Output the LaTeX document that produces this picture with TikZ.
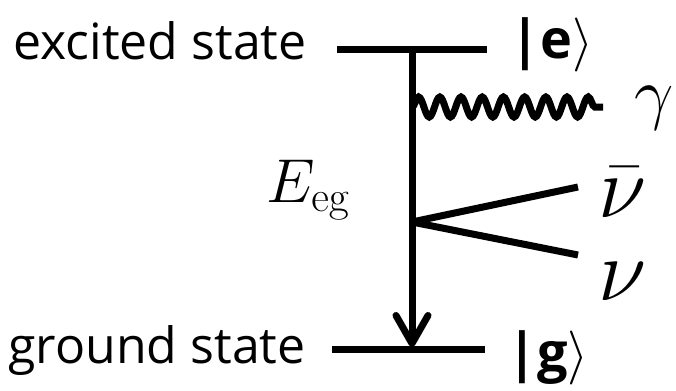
\RequirePackage{fix-cm}
\documentclass[tikz,border=0pt]{standalone}
\usepackage[no-math]{fontspec}
\setmainfont{Open Sans}
\usepackage{amsmath}
\usepackage{tikz}
\usetikzlibrary{arrows.meta, decorations.pathmorphing, positioning}

\begin{document}
\begin{tikzpicture}[
    x=0.5pt, y=-0.5pt,
    level/.style={line width=3.5pt},
    statelabel/.style={font=\fontsize{25}{30}\selectfont, inner sep=0pt, anchor=base east},
    ket/.style={font=\fontsize{27}{30}\selectfont\bfseries, inner sep=0pt, anchor=base west},
    symb/.style={inner sep=0pt, anchor=base west},
    greek/.style={symb, font=\fontsize{#1}{#1}\selectfont},
    photon/.style={line width=3.5pt, decorate,
                   decoration={snake, segment length=10.6pt, amplitude=5pt}},
    decay/.style={line width=3.5pt, -{Straight Barb[round, length=14pt, width=16pt]}}
]
\useasboundingbox (0,0) rectangle (676,391);

% levels
\coordinate (e-left) at (337,49);
\coordinate (e-right) at (487,49);
\coordinate (g-left) at (332,349);
\coordinate (g-right) at (485,349);
\draw[level] (e-left) -- (e-right);
\draw[level] (g-left) -- (g-right);

\node[statelabel] (excited) at (307,60) {excited state};
\node[statelabel] (ground) at (306,363) {ground state};
\node[ket] (ket-e) at (510,58) {|e$\rangle$};
\node[ket] (ket-g) at (507,371) {|g$\rangle$};

% transition
\coordinate (e-mid) at (412,49);
\coordinate (g-mid) at (412,347);
\draw[decay] (e-mid) -- (g-mid);
\node[symb, font=\fontsize{31}{34}\selectfont] (energy) at (266,202) {$E_{\mathrm{eg}}$};

% photon
\coordinate (ph-start) at (412,107);
\coordinate (ph-end) at (603,107);
\draw[photon] (ph-start) -- (ph-end);
\node[greek=35] (gamma) at (634,116) {$\gamma$};

% neutrinos
\coordinate (vertex) at (412,222);
\coordinate (nubar-end) at (578,187);
\coordinate (nu-end) at (578,255);
\draw[level] (vertex) -- (nubar-end);
\draw[level] (vertex) -- (nu-end);
\node[greek=44] (nubar) at (598,217) {$\bar{\nu}$};
\node[greek=44] (nu) at (598,300) {$\nu$};
\end{tikzpicture}
\end{document}
